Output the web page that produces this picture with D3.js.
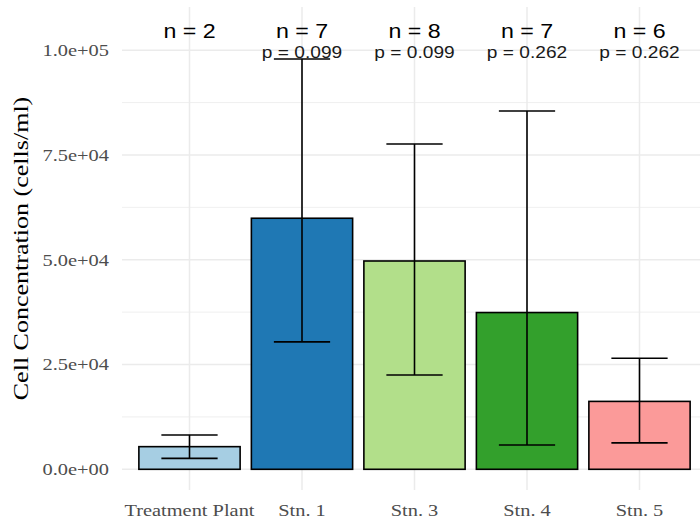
<!DOCTYPE html>
<html>
<meta charset="utf-8">
<style>
body { margin: 0; background: #fff; }
.tick-label { font-family: "Liberation Serif", serif; font-size: 17px; fill: #4d4d4d; }
.axis-title { font-family: "Liberation Serif", serif; font-size: 21px; fill: #000; }
.n-label { font-family: "Liberation Sans", Arial, sans-serif; font-size: 20px; fill: #000; text-anchor: middle; }
.p-label { font-family: "Liberation Sans", Arial, sans-serif; font-size: 16.5px; fill: #1a1a1a; text-anchor: middle; }
</style>
<body>
<script src="https://d3js.org/d3.v7.min.js"></script>
<script>

// data
var sites = ["Treatment Plant", "Stn. 1", "Stn. 3", "Stn. 4", "Stn. 5"];
var means = [5400, 59900, 49700, 37400, 16200];
var lower = [2600, 30400, 22500, 5800, 6300];
var upper = [8200, 97900, 77600, 85500, 26500];
var nLabels = ["n = 2", "n = 7", "n = 8", "n = 7", "n = 6"];
var pLabels = ["", "p = 0.099", "p = 0.099", "p = 0.262", "p = 0.262"];
var colors = ["#a6cee3", "#1f78b4", "#b2df8a", "#33a02c", "#fb9a99"];
var yTicks = [0, 25000, 50000, 75000, 100000];
var yMinor = [12500, 37500, 62500, 87500];

var width = 700, height = 521;
var panel = {left: 122, right: 707, top: 7, bottom: 490};
// the reference text is a bit wider than the fonts here
var serifStretch = 1.2, sansStretch = 1.16;

var svg = d3.select("body").append("svg")
    .attr("width", width)
    .attr("height", height);

var x = d3.scaleBand()
    .domain(sites)
    .range([panel.left, panel.right])
    .paddingOuter(0.1)
    .paddingInner(0);

var y = d3.scaleLinear()
    .domain([-4940, 110300])
    .range([panel.bottom, panel.top]);

var step = x.bandwidth();
function cx(d) { return x(d) + step / 2; }

// grid
var grid = svg.append("g");
grid.selectAll(".minor")
    .data(yMinor)
    .enter().append("line")
    .attr("x1", panel.left).attr("x2", panel.right)
    .attr("y1", y).attr("y2", y)
    .attr("stroke", "#ebebeb").attr("stroke-width", 0.8);
grid.selectAll(".major")
    .data(yTicks)
    .enter().append("line")
    .attr("x1", panel.left).attr("x2", panel.right)
    .attr("y1", y).attr("y2", y)
    .attr("stroke", "#ebebeb").attr("stroke-width", 1.5);
grid.selectAll(".vmajor")
    .data(sites)
    .enter().append("line")
    .attr("x1", cx).attr("x2", cx)
    .attr("y1", panel.top).attr("y2", panel.bottom)
    .attr("stroke", "#ebebeb").attr("stroke-width", 1.5);

// bars
var barW = step * 0.9;
svg.selectAll(".bar")
    .data(sites)
    .enter().append("rect")
    .attr("x", function(d) { return cx(d) - barW / 2; })
    .attr("width", barW)
    .attr("y", function(d, i) { return y(means[i]); })
    .attr("height", function(d, i) { return y(0) - y(means[i]); })
    .attr("fill", function(d, i) { return colors[i]; })
    .attr("stroke", "#000")
    .attr("stroke-width", 1.6);

// error bars
var capW = step * 0.5;
var err = svg.append("g").attr("stroke", "#000").attr("stroke-width", 1.6);
err.selectAll(".stem")
    .data(sites)
    .enter().append("line")
    .attr("x1", cx).attr("x2", cx)
    .attr("y1", function(d, i) { return y(lower[i]); })
    .attr("y2", function(d, i) { return y(upper[i]); });
err.selectAll(".capTop")
    .data(sites)
    .enter().append("line")
    .attr("x1", function(d) { return cx(d) - capW / 2; })
    .attr("x2", function(d) { return cx(d) + capW / 2; })
    .attr("y1", function(d, i) { return y(upper[i]); })
    .attr("y2", function(d, i) { return y(upper[i]); });
err.selectAll(".capBot")
    .data(sites)
    .enter().append("line")
    .attr("x1", function(d) { return cx(d) - capW / 2; })
    .attr("x2", function(d) { return cx(d) + capW / 2; })
    .attr("y1", function(d, i) { return y(lower[i]); })
    .attr("y2", function(d, i) { return y(lower[i]); });

// n and p labels
svg.selectAll(".n-label")
    .data(sites)
    .enter().append("text")
    .attr("class", "n-label")
    .attr("transform", function(d) { return "translate(" + cx(d) + ",38) scale(" + sansStretch + ",1)"; })
    .text(function(d, i) { return nLabels[i]; });
svg.selectAll(".p-label")
    .data(sites)
    .enter().append("text")
    .attr("class", "p-label")
    .attr("transform", function(d) { return "translate(" + cx(d) + ",58) scale(" + sansStretch + ",1)"; })
    .text(function(d, i) { return pLabels[i]; });

// stretch an axis label around its own anchor
function stretchLabels(sel) {
  sel.each(function() {
    var t = d3.select(this);
    var tx = +t.attr("x") || 0;
    t.attr("x", 0)
      .attr("transform", "translate(" + tx + ",0) scale(" + serifStretch + ",1)");
  });
}

// axes
var yAxis = d3.axisLeft(y)
    .tickValues(yTicks)
    .tickSize(0)
    .tickPadding(13)
    .tickFormat(function(d) {
      return d.toExponential(1).replace("e+", "e+0");
    });
var gy = svg.append("g")
    .attr("transform", "translate(" + panel.left + ",0)")
    .call(yAxis);
gy.select(".domain").remove();
gy.selectAll("text").attr("class", "tick-label").attr("fill", null).attr("font-family", null).attr("font-size", null)
    .call(stretchLabels);

var xAxis = d3.axisBottom(x).tickSize(0).tickPadding(14);
var gx = svg.append("g")
    .attr("transform", "translate(0," + panel.bottom + ")")
    .call(xAxis);
gx.select(".domain").remove();
gx.selectAll("text").attr("class", "tick-label").attr("fill", null).attr("font-family", null).attr("font-size", null)
    .call(stretchLabels);

svg.append("text")
    .attr("class", "axis-title")
    .attr("text-anchor", "middle")
    .attr("transform", "translate(28," + ((panel.top + panel.bottom) / 2) + ") rotate(-90) scale(1.24,1)")
    .text("Cell Concentration (cells/ml)");

</script>
</body>
</html>
